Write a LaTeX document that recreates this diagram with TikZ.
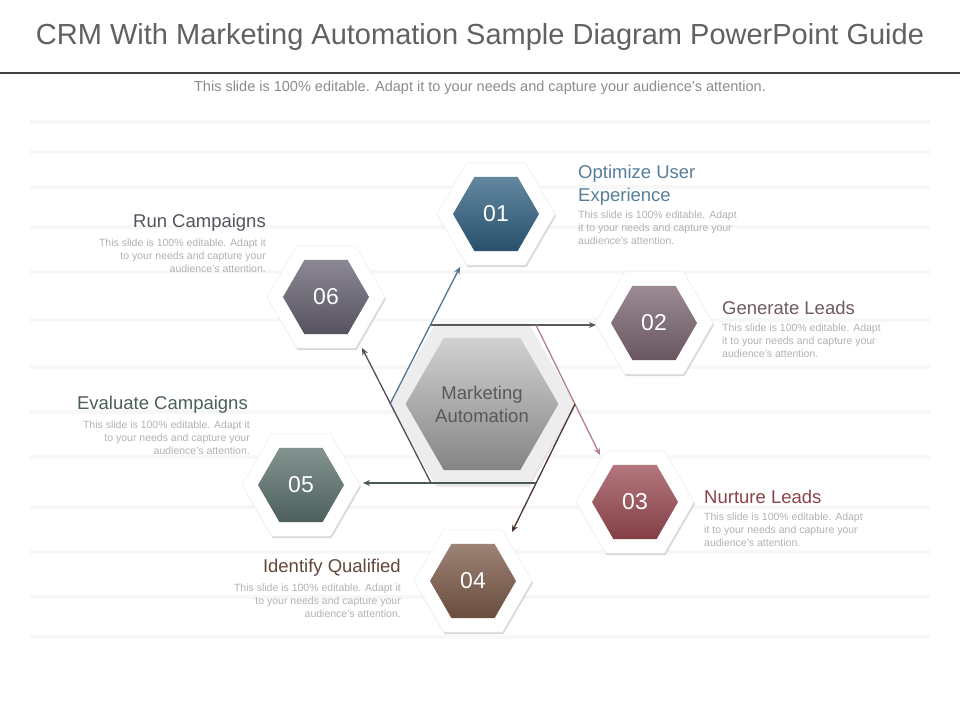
\documentclass[tikz,border=0pt]{standalone}
\usepackage{fontspec}
\setmainfont{Liberation Sans}
\usetikzlibrary{shapes.geometric,shadows,arrows.meta}
\begin{document}
\begin{tikzpicture}[x=1pt,y=-1pt,
  hexo/.style={regular polygon,regular polygon sides=6,minimum size=118pt,inner sep=0pt,fill=white,draw=black!8,drop shadow={shadow xshift=1pt,shadow yshift=-2pt,fill=black!25,opacity=.6}},
  hexi/.style={regular polygon,regular polygon sides=6,minimum size=86pt,inner sep=0pt,text=white,font=\fontsize{23}{23}\selectfont,top color=#1!75!white,bottom color=#1!85!black},
  ttl/.style={font=\fontsize{18.5}{23}\selectfont},
  desc/.style={font=\fontsize{10.5}{13}\selectfont,text=black!30},
  arr/.style={line width=1.3pt,-{Stealth[length=7pt,width=6pt]}}]
\definecolor{c1}{HTML}{2F5F80}\definecolor{c2}{HTML}{7A6470}\definecolor{c3}{HTML}{9A4A52}
\definecolor{c4}{HTML}{7C5A48}\definecolor{c5}{HTML}{5A706C}\definecolor{c6}{HTML}{656070}
\useasboundingbox (0,0) rectangle (960,720);
\fill[white] (0,0) rectangle (960,720);
\foreach \yy in {120,150,185,225,270,318,365,410,455,505,550,595,635}{\fill[black!3] (30,\yy) rectangle (930,\yy+4);}
\node[font=\fontsize{29}{32}\selectfont,text=black!62] (title) at (480,37) {CRM With Marketing Automation Sample Diagram PowerPoint Guide};
\draw[line width=1.5pt,black!75] (0,73) -- (960,73);
\node[font=\fontsize{14.5}{16}\selectfont,text=black!45] (sub) at (480,88) {This slide is 100\% editable. Adapt it to your needs and capture your audience's attention.};
% central
\node[regular polygon,regular polygon sides=6,minimum size=186pt,inner sep=0pt,fill=black!7,drop shadow={shadow xshift=1pt,shadow yshift=-2pt,fill=black!20,opacity=.5}] (big) at (482,404) {};
\node[regular polygon,regular polygon sides=6,minimum size=128pt,inner sep=0pt,top color=black!18,bottom color=black!48,align=center,font=\fontsize{18.5}{23}\selectfont,text=black!65] (core) at (482,404) {Marketing\\Automation};
% nodes
\foreach \n/\x/\y in {1/496/214,2/654/323,3/635/502,4/473/581,5/301/485,6/326/297}{
  \node[hexo] (o\n) at (\x,\y) {};
  \node[hexi=c\n] (h\n) at (\x,\y) {0\n};
}
\coordinate (vl) at (390,404); \coordinate (vr) at (575,404);
\coordinate (vtl) at (431,325); \coordinate (vtr) at (536,325);
\coordinate (vbl) at (431,483); \coordinate (vbr) at (536,483);
\coordinate (e1) at (460,267); \coordinate (e2) at (596,325); \coordinate (e3) at (600,455);
\coordinate (e4) at (512,532); \coordinate (e5) at (363,483); \coordinate (e6) at (362,348);
\draw[arr,draw=c1!85] (vl) -- (e1);
\draw[arr,draw=black!65] (vtl) -- (e2);
\draw[arr,draw=c3!70] (vtr) -- (e3);
\draw[arr,draw=c4!60!black] (vr) -- (e4);
\draw[arr,draw=c5!80!black] (vbr) -- (e5);
\draw[arr,draw=c6!80!black] (vbl) -- (e6);
% labels
\node[ttl,text=c1!80,anchor=north west,align=left,inner sep=0pt] (t1) at (578,165) {Optimize User\\Experience};
\node[desc,anchor=north west,align=left,inner sep=0pt] (d1) at (578,211) {This slide is 100\% editable. Adapt\\it to your needs and capture your\\audience's attention.};
\node[ttl,text=c2!90!black,anchor=west,inner sep=0pt] (t2) at (722,308) {Generate Leads};
\node[desc,anchor=north west,align=left,inner sep=0pt] (d2) at (722,324) {This slide is 100\% editable. Adapt\\it to your needs and capture your\\audience's attention.};
\node[ttl,text=c3!90!black,anchor=west,inner sep=0pt] (t3) at (704,497) {Nurture Leads};
\node[desc,anchor=north west,align=left,inner sep=0pt] (d3) at (704,513) {This slide is 100\% editable. Adapt\\it to your needs and capture your\\audience's attention.};
\node[ttl,text=c4!80!black,anchor=east,inner sep=0pt] (t4) at (401,568) {Identify Qualified};
\node[desc,anchor=north east,align=right,inner sep=0pt] (d4) at (401,584) {This slide is 100\% editable. Adapt it\\to your needs and capture your\\audience's attention.};
\node[ttl,text=c5!85!black,anchor=east,inner sep=0pt] (t5) at (248,405) {Evaluate Campaigns};
\node[desc,anchor=north east,align=right,inner sep=0pt] (d5) at (250,421) {This slide is 100\% editable. Adapt it\\to your needs and capture your\\audience's attention.};
\node[ttl,text=c6!85!black,anchor=east,inner sep=0pt] (t6) at (266,223) {Run Campaigns};
\node[desc,anchor=north east,align=right,inner sep=0pt] (d6) at (266,239) {This slide is 100\% editable. Adapt it\\to your needs and capture your\\audience's attention.};
\end{tikzpicture}
\end{document}
